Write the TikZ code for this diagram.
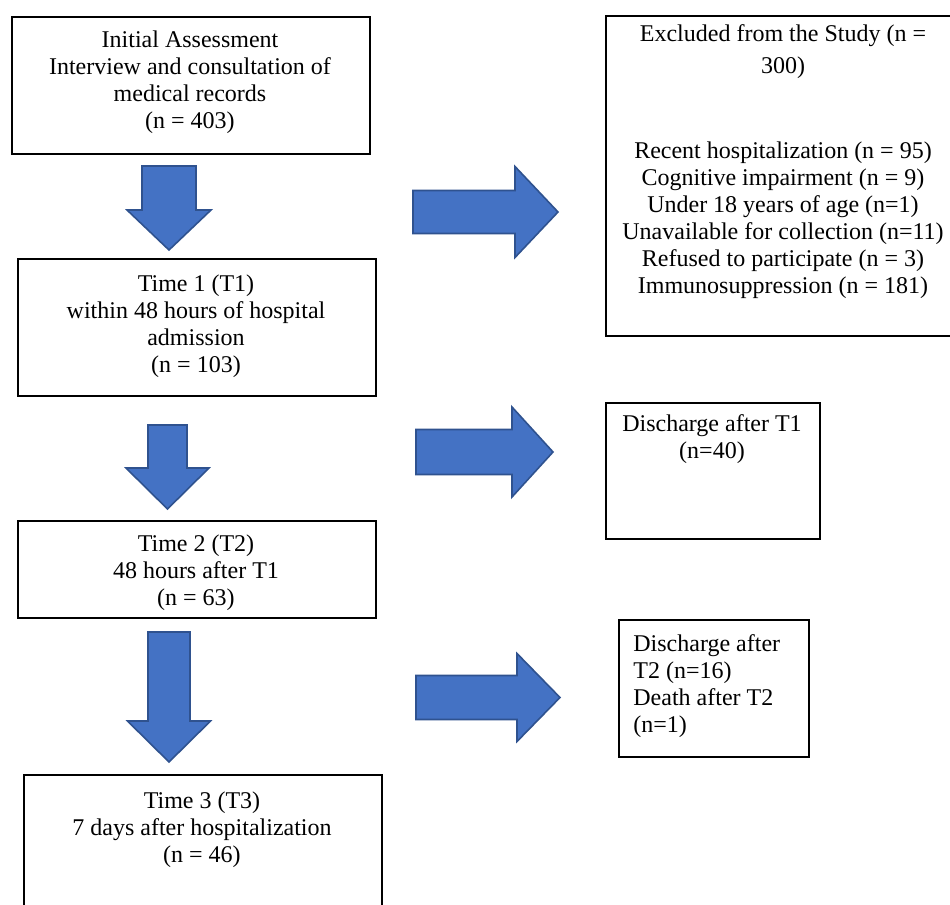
\documentclass[tikz,border=0pt]{standalone}
\usepackage{fontspec}
\setmainfont{Liberation Serif}
\definecolor{arrfill}{HTML}{4472C4}
\definecolor{arrline}{HTML}{2F528F}
\newcommand{\blkdown}[6]{%
  \draw[blockarrow] ({#1-#5},#2) -- ({#1+#5},#2) -- ({#1+#5},#3) -- ({#1+#6},#3) -- (#1,#4) -- ({#1-#6},#3) -- ({#1-#5},#3) -- cycle;}
\newcommand{\blkright}[6]{%
  \draw[blockarrow] (#2,{#1-#5}) -- (#3,{#1-#5}) -- (#3,{#1-#6}) -- (#4,#1) -- (#3,{#1+#6}) -- (#3,{#1+#5}) -- (#2,{#1+#5}) -- cycle;}
\begin{document}
\begin{tikzpicture}[x=0.5pt,y=-0.5pt,
  box/.style={draw=black, line width=0.9pt, inner sep=0pt, anchor=north west},
  txt/.style={font=\fontsize{12}{13.5}\selectfont, align=center, inner sep=0pt, anchor=north},
  blockarrow/.style={fill=arrfill, draw=arrline, line width=0.8pt, line join=miter}]
\fill[white] (0,0) rectangle (950,905);
\clip (0,0) rectangle (950,905);
% left column boxes
\node[box, minimum width=179pt, minimum height=68.5pt] (init) at (11,16) {};
\node[box, minimum width=179pt, minimum height=68.5pt] (t1) at (17,258) {};
\node[box, minimum width=179pt, minimum height=48.5pt] (t2) at (17,520) {};
\node[box, minimum width=179pt, minimum height=73pt] (t3) at (23,774) {};
% right column boxes
\node[box, minimum width=180pt, minimum height=160pt] (excl) at (605,15) {};
\node[box, minimum width=107pt, minimum height=68pt] (d1) at (605,402) {};
\node[box, minimum width=95pt, minimum height=68.5pt] (d2) at (618,619) {};
% texts
\node[txt] (initT) at (190,30) {Initial Assessment\\Interview and consultation of\\medical records\\(n = 403)};
\node[txt] (t1T) at (196,274) {Time 1 (T1)\\within 48 hours of hospital\\admission\\(n = 103)};
\node[txt] (t2T) at (196,534) {Time 2 (T2)\\48 hours after T1\\(n = 63)};
\node[txt] (t3T) at (202,791) {Time 3 (T3)\\7 days after hospitalization\\(n = 46)};
\node[txt] (exclT) at (783,24) {Excluded from the Study (n =\\[2.5pt]300)};
\node[txt] (exclL) at (783,141) {Recent hospitalization (n = 95)\\Cognitive impairment (n = 9)\\Under 18 years of age (n=1)\\Unavailable for collection (n=11)\\Refused to participate (n = 3)\\Immunosuppression (n = 181)};
\node[txt] (d1T) at (712,414) {Discharge after T1\\(n=40)};
\node[txt, anchor=north west, align=left] (d2T) at (633,634) {Discharge after\\T2 (n=16)\\Death after T2\\(n=1)};
% block arrows
\blkdown{169}{166}{210}{250}{27}{42}
\blkdown{167.5}{425}{468}{509}{19.5}{41.5}
\blkdown{169}{632}{721}{762}{21}{41.5}
\blkright{212}{413}{515}{558}{21.5}{45.5}
\blkright{452}{416}{512}{553}{22.5}{45}
\blkright{697.5}{416}{517}{560}{22}{44}
\end{tikzpicture}
\end{document}
